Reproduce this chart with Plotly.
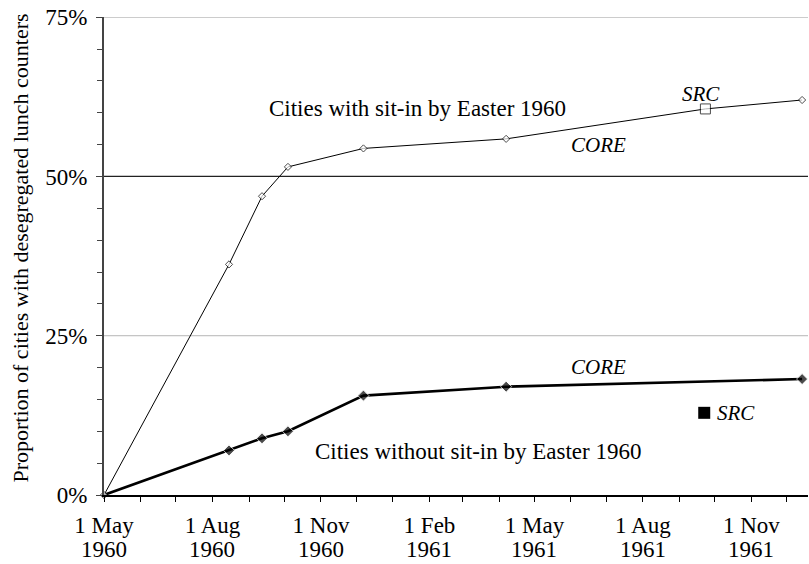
import plotly.graph_objects as go
import pandas as pd

# ---- data ----
dates_with = ["1960-05-01", "1960-08-15", "1960-09-12", "1960-10-04", "1960-12-07",
              "1961-04-07", "1961-09-23", "1961-12-14"]
vals_with = [0, 36.2, 46.9, 51.5, 54.4, 55.9, 60.6, 62.0]
src_index_with = 6  # the SRC point on the upper line

dates_without = ["1960-05-01", "1960-08-15", "1960-09-12", "1960-10-04", "1960-12-07",
                 "1961-04-07", "1961-12-14"]
vals_without = [0, 7.0, 8.9, 10.0, 15.6, 17.0, 18.2]

src_without_date = ["1961-09-22"]
src_without_val = [12.9]

x_tickvals = ["1960-05-01", "1960-08-01", "1960-11-01", "1961-02-01",
              "1961-05-01", "1961-08-01", "1961-11-01"]
x_ticktext = ["1 May", "1 Aug", "1 Nov", "1 Feb", "1 May", "1 Aug", "1 Nov"]
x_tickyear = ["1960", "1960", "1960", "1961", "1961", "1961", "1961"]
y_tickvals = [0, 25, 50, 75]
y_ticktext = ["0%", "25%", "50%", "75%"]

FONT = "Liberation Serif, Times New Roman, serif"

fig = go.Figure()

# horizontal reference lines (light at 25/75, dark at 50)
for gv in y_tickvals[1:]:
    dark = gv == 50
    fig.add_hline(y=gv, layer="below",
                  line=dict(color="#222222" if dark else "#b5b5b5",
                            width=1.2 if dark else 1))

# lower series (thick, filled diamonds)
fig.add_trace(go.Scatter(
    x=dates_without, y=vals_without, mode="lines+markers",
    line=dict(color="black", width=2.6),
    marker=dict(symbol="diamond", color="black",
                size=[0] + [8.5] * (len(vals_without) - 1)),
    cliponaxis=False, showlegend=False))

fig.add_trace(go.Scatter(
    x=src_without_date, y=src_without_val, mode="markers",
    marker=dict(symbol="square", color="black", size=12),
    cliponaxis=False, showlegend=False))

# upper series (thin, hollow diamonds)
sym = ["diamond"] * len(vals_with)
sz = [5.5] * len(vals_with)
sym[src_index_with] = "square"
sz[src_index_with] = 10
fig.add_trace(go.Scatter(
    x=dates_with, y=vals_with, mode="lines+markers",
    line=dict(color="black", width=1),
    marker=dict(symbol=sym, size=sz, color="white",
                line=dict(color="black", width=1)),
    cliponaxis=False, showlegend=False))

ann_font = dict(family=FONT, size=23, color="black")
title_font = dict(family=FONT, size=22, color="black")
ital_font = dict(family=FONT, size=21, color="black")
annotations = [
    dict(x="1961-01-22", y=60.6, text="Cities with sit-in by Easter 1960",
         font=ann_font, showarrow=False, xanchor="center", yanchor="middle"),
    dict(x="1961-03-14", y=6.8, text="Cities without sit-in by Easter 1960",
         font=ann_font, showarrow=False, xanchor="center", yanchor="middle"),
    dict(x="1961-09-19", y=63.0, text="<i>SRC</i>", font=ital_font,
         showarrow=False, xanchor="center", yanchor="middle"),
    dict(x="1961-06-24", y=54.95, text="<i>CORE</i>", font=ital_font,
         showarrow=False, xanchor="center", yanchor="middle"),
    dict(x="1961-06-24", y=20.1, text="<i>CORE</i>", font=ital_font,
         showarrow=False, xanchor="center", yanchor="middle"),
    dict(x="1961-10-01", y=12.9, text="<i>SRC</i>", font=ital_font,
         showarrow=False, xanchor="left", yanchor="middle"),
    dict(x=-0.119, y=0.516, xref="paper", yref="paper",
         text="Proportion of cities with desegregated lunch counters",
         textangle=-90, font=title_font, showarrow=False,
         xanchor="center", yanchor="middle"),
]
# second row of the x tick labels (years)
for tv, yr in zip(x_tickvals, x_tickyear):
    annotations.append(dict(x=tv, y=-0.113, xref="x", yref="paper", text=yr,
                            font=ann_font, showarrow=False,
                            xanchor="center", yanchor="middle"))

minor_x = [d.strftime("%Y-%m-%d") for d in pd.date_range("1960-06-01", "1961-12-01", freq="MS")]

fig.update_layout(
    width=809, height=564,
    margin=dict(l=104, r=1, t=17, b=69),
    paper_bgcolor="white", plot_bgcolor="white",
    font=dict(family=FONT, size=23, color="black"),
    annotations=annotations,
    hovermode=False,
    xaxis=dict(
        type="date", range=["1960-05-01", "1961-12-19"],
        tickmode="array", tickvals=x_tickvals, ticktext=x_ticktext,
        ticks="outside", ticklen=5, tickcolor="black", tickwidth=1,
        showline=True, linecolor="black", linewidth=1.5,
        showgrid=False, zeroline=False, automargin=False,
        tickfont=dict(family=FONT, size=23, color="black"),
        ticklabelstandoff=4,
        minor=dict(tickmode="array", tickvals=minor_x, ticks="outside",
                   ticklen=5, tickcolor="black", tickwidth=1, showgrid=False),
    ),
    yaxis=dict(
        range=[0, 75.03],
        tickmode="array", tickvals=y_tickvals, ticktext=y_ticktext,
        ticks="outside", ticklen=6, tickcolor="#444444", tickwidth=1,
        showline=True, linecolor="#444444", linewidth=2,
        showgrid=False, zeroline=False, automargin=False,
        ticklabeloverflow="allow",
        tickfont=dict(family=FONT, size=23, color="black"),
        ticklabelstandoff=4,
        minor=dict(dtick=5, tick0=0, ticks="outside", ticklen=5,
                   tickcolor="#444444", tickwidth=1, showgrid=False),
    ),
)

# remove the browser's default 8px page margin so the figure fills the window
fig.write_html("out.html",
               config={"displayModeBar": False},
               post_script="document.body.style.margin='0';"
                           "document.body.style.overflow='hidden';")
